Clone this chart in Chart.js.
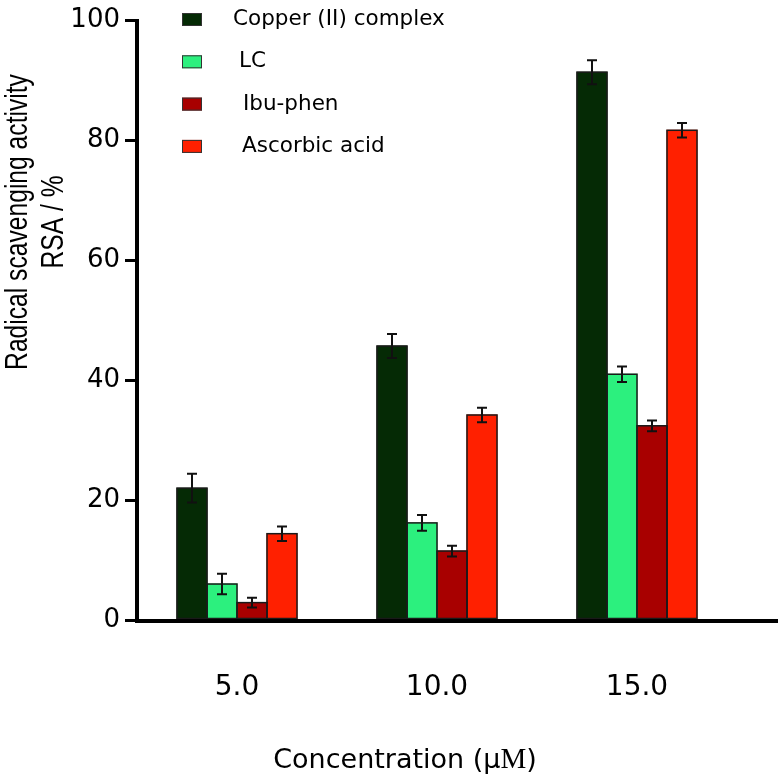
<!DOCTYPE html>
<html>
<head>
<meta charset="utf-8">
<script src="https://cdn.jsdelivr.net/npm/chart.js@4"></script>
<style>
  html, body { margin: 0; padding: 0; background: #fff; }
</style>
</head>
<body>
<canvas id="chart" width="782" height="780"></canvas>
<script>
"use strict";

const concentrations = ["5.0", "10.0", "15.0"];
const seriesNames = ["Copper (II) complex", "LC", "Ibu-phen", "Ascorbic acid"];
const copperValues = [22.0, 45.7, 91.4];
const copperErrors = [2.4, 2.0, 2.0];
const lcValues = [6.0, 16.2, 41.0];
const lcErrors = [1.7, 1.3, 1.3];
const ibuValues = [2.9, 11.5, 32.4];
const ibuErrors = [0.8, 0.9, 0.9];
const ascorbicValues = [14.4, 34.2, 81.7];
const ascorbicErrors = [1.2, 1.2, 1.2];
const yTicks = [0, 20, 40, 60, 80, 100];
const colors = ["#052a05", "#2cf07e", "#a80000", "#ff2000"];

const sans = "'DejaVu Sans', Verdana, sans-serif";

// bar outlines and error bars, drawn from the bar elements
const errorBars = {
  id: "errorBars",
  afterDatasetsDraw(chart) {
    const ctx = chart.ctx;
    const y = chart.scales.y;
    ctx.save();
    chart.data.datasets.forEach((ds, i) => {
      chart.getDatasetMeta(i).data.forEach((bar, j) => {
        ctx.strokeStyle = "#1a1a1a";
        ctx.lineWidth = 1.5;
        ctx.strokeRect(bar.x - bar.width / 2, bar.y, bar.width, bar.base - bar.y);

        const v = ds.data[j], e = ds.errors[j];
        const top = y.getPixelForValue(v + e), bot = y.getPixelForValue(v - e);
        ctx.strokeStyle = "#111";
        ctx.lineWidth = 2;
        ctx.beginPath();
        ctx.moveTo(bar.x, top); ctx.lineTo(bar.x, bot);
        ctx.moveTo(bar.x - 5, top); ctx.lineTo(bar.x + 5, top);
        ctx.moveTo(bar.x - 5, bot); ctx.lineTo(bar.x + 5, bot);
        ctx.stroke();
      });
    });
    ctx.restore();
  }
};

// legend, axis titles and the long x axis line
const decorations = {
  id: "decorations",
  afterDraw(chart) {
    const ctx = chart.ctx;
    const area = chart.chartArea;
    ctx.save();

    // x axis line runs to the right edge
    ctx.strokeStyle = "#000";
    ctx.lineWidth = 4;
    ctx.beginPath();
    ctx.moveTo(area.left - 2, area.bottom + 1);
    ctx.lineTo(778, area.bottom + 1);
    ctx.stroke();

    // legend
    const textX = [233, 239, 243, 242];
    ctx.font = "21.5px " + sans;
    ctx.textBaseline = "alphabetic";
    ctx.textAlign = "left";
    chart.data.datasets.forEach((ds, i) => {
      const top = 13 + i * 42.3;
      ctx.fillStyle = ds.backgroundColor;
      ctx.fillRect(182, top, 20, 13);
      ctx.strokeStyle = "#333";
      ctx.lineWidth = 1;
      ctx.strokeRect(182.5, top + 0.5, 19, 12);
      ctx.fillStyle = "#000";
      ctx.fillText(ds.label, textX[i], top + 12);
    });

    // y title, two lines, narrow face
    ctx.font = "32px 'Liberation Sans', Arial, sans-serif";
    ctx.textAlign = "center";
    ctx.textBaseline = "middle";
    ctx.translate(18, 222);
    ctx.rotate(-Math.PI / 2);
    ctx.scale(0.77, 1);
    ctx.fillText("Radical scavenging activity", 0, 0);
    ctx.fillText("RSA / %", 0, 36);
    ctx.setTransform(1, 0, 0, 1, 0, 0);

    // x title, the M is set in a serif face
    const part1 = "Concentration (\u03bc", part2 = "M", part3 = ")";
    const f1 = "27px " + sans, f2 = "29px 'Liberation Serif', 'Times New Roman', serif";
    ctx.font = f1; const w1 = ctx.measureText(part1).width, w3 = ctx.measureText(part3).width;
    ctx.font = f2; const w2 = ctx.measureText(part2).width;
    let x = 405 - (w1 + w2 + w3) / 2;
    ctx.textAlign = "left";
    ctx.textBaseline = "alphabetic";
    ctx.font = f1; ctx.fillText(part1, x, 768); x += w1;
    ctx.font = f2; ctx.fillText(part2, x, 768); x += w2;
    ctx.font = f1; ctx.fillText(part3, x, 768);

    ctx.restore();
  }
};

function makeSet(i, values, errors) {
  return {
    label: seriesNames[i],
    data: values,
    errors: errors,
    backgroundColor: colors[i],
    borderWidth: 0,
    inflateAmount: 0.5
  };
}

new Chart(document.getElementById("chart"), {
  type: "bar",
  data: {
    labels: concentrations,
    datasets: [
      makeSet(0, copperValues, copperErrors),
      makeSet(1, lcValues, lcErrors),
      makeSet(2, ibuValues, ibuErrors),
      makeSet(3, ascorbicValues, ascorbicErrors)
    ]
  },
  options: {
    responsive: false,
    devicePixelRatio: 1,
    animation: false,
    datasets: { bar: { barPercentage: 1, categoryPercentage: 0.6 } },
    layout: { padding: { top: 15, right: 45, left: 0, bottom: 0 } },
    plugins: { legend: { display: false }, tooltip: { enabled: false } },
    scales: {
      x: {
        afterFit: (s) => { s.height = 160; },
        grid: { display: false, drawTicks: false },
        border: { display: false },
        ticks: { color: "#000", padding: 51, font: { family: sans, size: 28 } }
      },
      y: {
        min: 0,
        max: 100,
        afterFit: (s) => { s.width = 137; },
        afterBuildTicks: (s) => { s.ticks = yTicks.map(v => ({ value: v })); },
        grid: { drawOnChartArea: false, color: "#000", lineWidth: 3, tickLength: 12 },
        border: { color: "#000", width: 4 },
        ticks: { color: "#000", padding: 5, font: { family: sans, size: 26 } }
      }
    }
  },
  plugins: [errorBars, decorations]
});
</script>
</body>
</html>
